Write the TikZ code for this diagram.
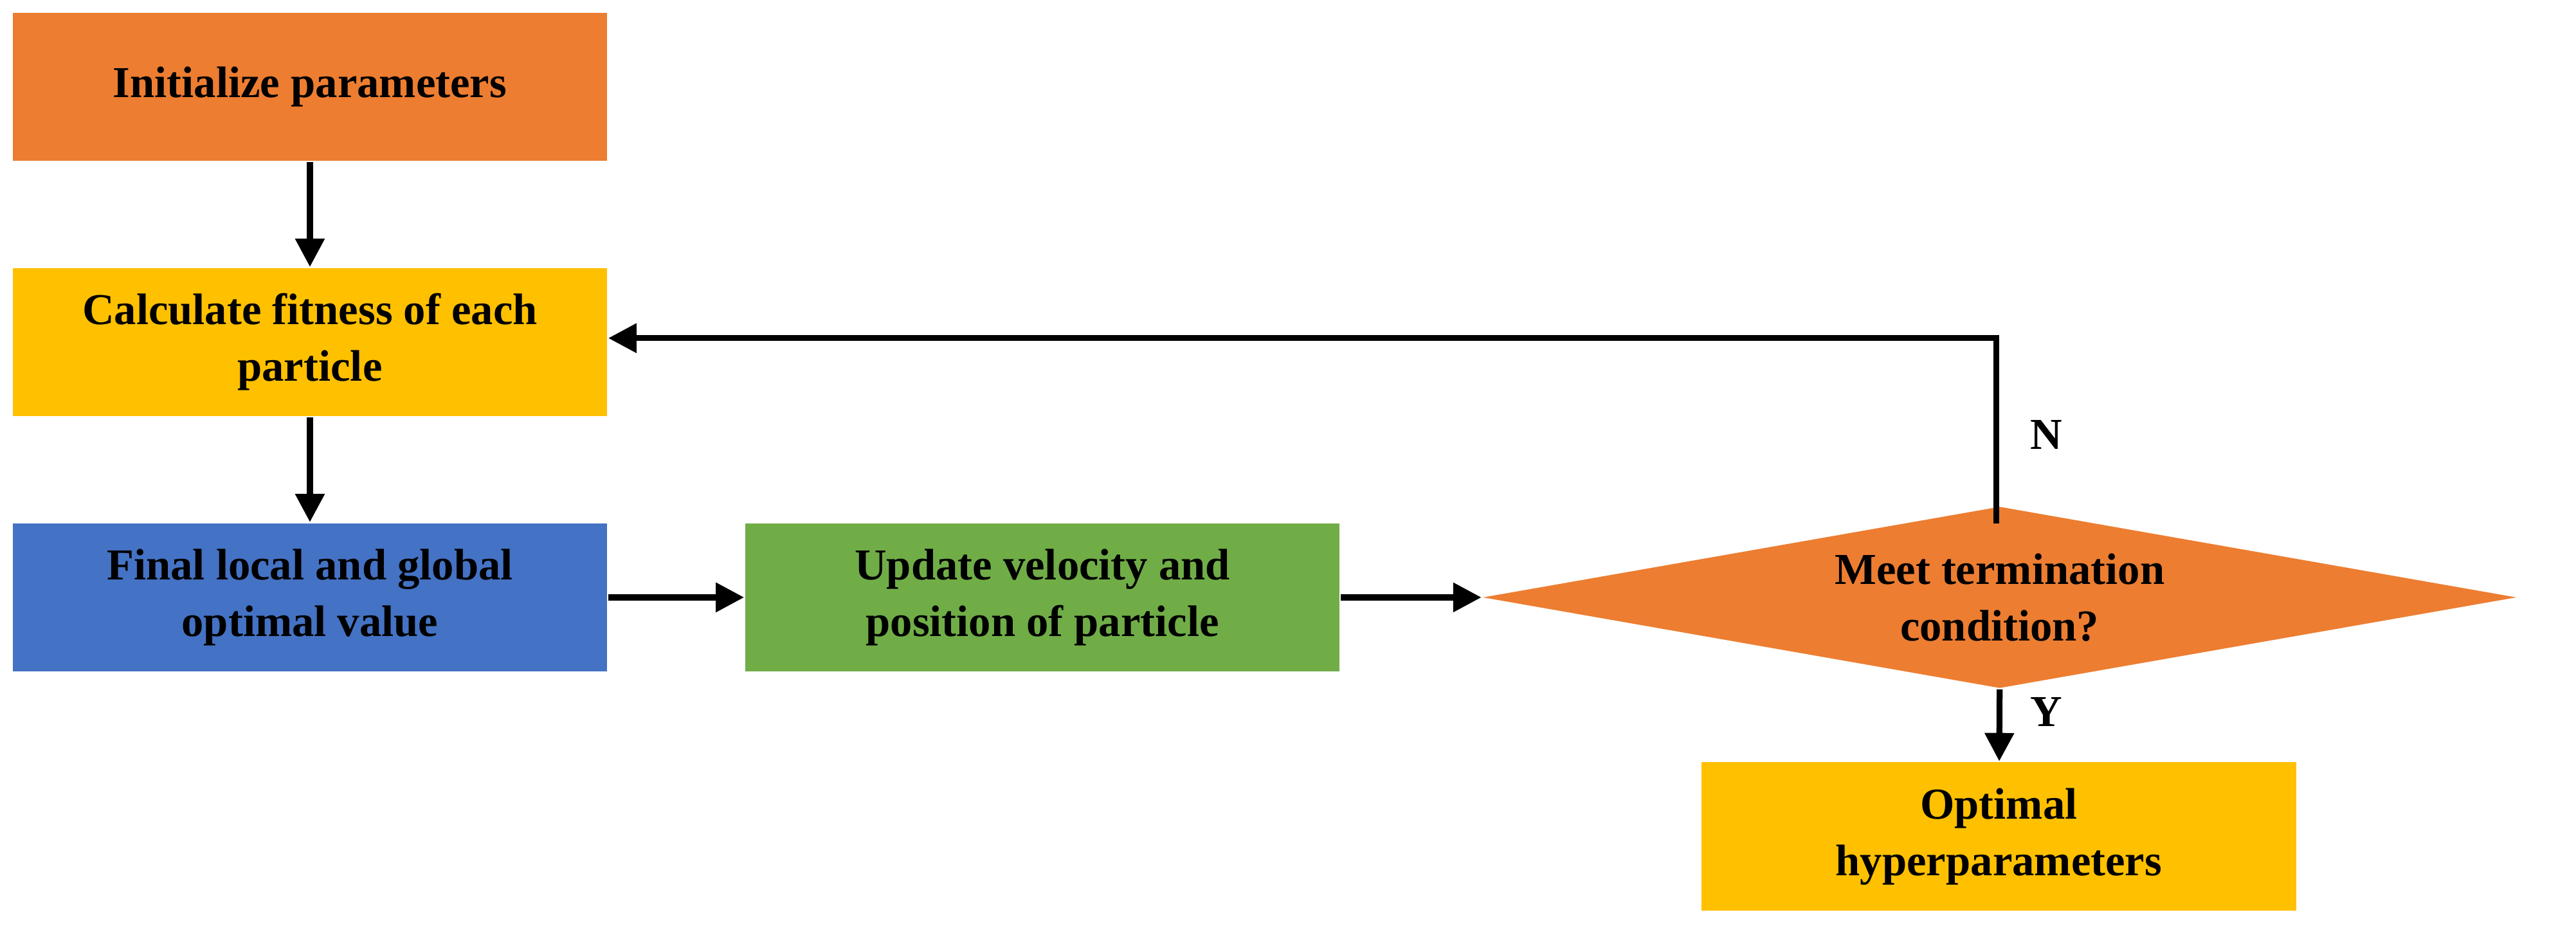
\documentclass[tikz,border=0pt]{standalone}
\usepackage{fontspec}
\setmainfont{Liberation Serif}
\usetikzlibrary{shapes.geometric,arrows.meta}
\definecolor{orng}{HTML}{ED7D31}
\definecolor{yel}{HTML}{FFC000}
\definecolor{blu}{HTML}{4472C4}
\definecolor{grn}{HTML}{70AD47}
\begin{document}
\begin{tikzpicture}[x=0.01cm,y=-0.01cm,
  box/.style={draw=none,minimum width=3.69cm,minimum height=0.92cm,align=center,font=\fontsize{7.8}{10}\selectfont\bfseries,inner sep=0pt},
  arr/.style={-{Triangle[length=5pt,width=5pt]},line width=1.05pt}]
\useasboundingbox (0,0) rectangle (1600,587.5);
\node[box,fill=orng] (init) at (192.5,54) {Initialize parameters};
\node[box,fill=yel] (calc) at (192.5,212.5) {Calculate fitness of each\\particle};
\node[box,fill=blu] (final) at (192.5,371) {Final local and global\\optimal value};
\node[box,fill=grn] (upd) at (647.5,371) {Update velocity and\\position of particle};
\node[diamond,fill=orng,aspect=5.7,minimum width=6.42cm,minimum height=1.13cm,inner sep=0pt,font=\fontsize{7.8}{10}\selectfont\bfseries,align=center] (dec) at (1242,371) {Meet termination\\condition?};
\node[box,fill=yel] (opt) at (1241.5,519.5) {Optimal\\hyperparameters};
\draw[arr] (init) -- (calc);
\draw[arr] (calc) -- (final);
\draw[arr] (final) -- (upd);
\draw[arr] (upd) -- (dec);
\draw[arr] (dec.south) -- (opt);
\coordinate (c1) at (1240,210);
\draw[arr] (1240,325) -- (c1) -- (calc.east |- c1);
\node[font=\fontsize{7.8}{10}\selectfont\bfseries] (n) at (1271,270) {N};
\node[font=\fontsize{7.8}{10}\selectfont\bfseries] (y) at (1271,442) {Y};
\end{tikzpicture}
\end{document}
